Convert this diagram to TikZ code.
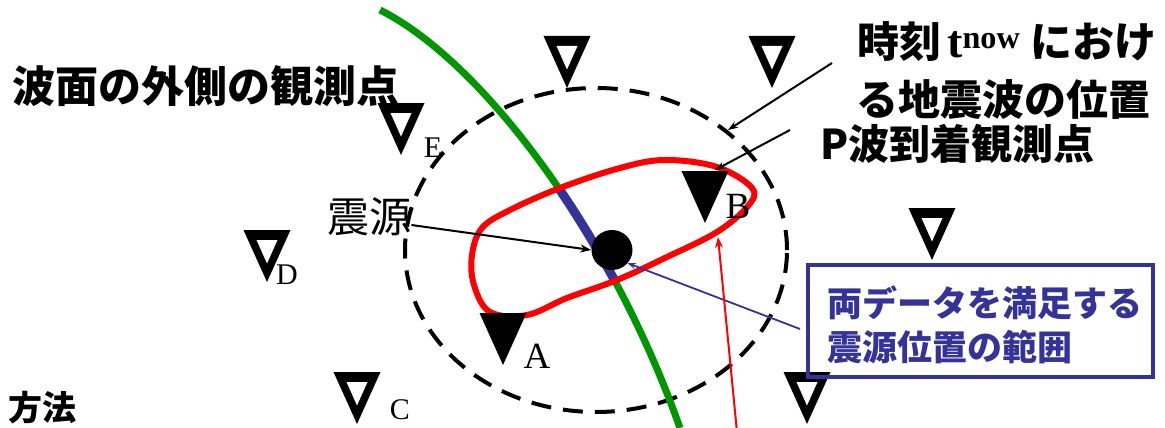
\documentclass[tikz,border=0pt]{standalone}
\usepackage{fontspec}
\newfontfamily\jp{Noto Sans CJK JP}
\newfontfamily\tms{Liberation Serif}
\usetikzlibrary{arrows.meta,shapes.geometric}
\definecolor{grn}{RGB}{0,150,0}
\definecolor{bl}{RGB}{51,51,153}
\tikzset{
  stn/.pic={\fill[black] (-23.5,0) -- (23.5,0) -- (0,52) -- cycle;
            \fill[white] (-10.5,10) -- (10.5,10) -- (0,33.5) -- cycle;},
  stnf/.pic={\fill[black] (-23.5,0) -- (23.5,0) -- (0,52) -- cycle;},
  jpb/.style={inner sep=0, anchor=west, font=\jp\bfseries\fontsize{#1}{#1}\selectfont},
  lab/.style={inner sep=0, font=\tms\fontsize{#1}{#1}\selectfont},
  arr/.style={line width=2pt, -{Stealth[length=11pt,width=8pt]}},
}
\begin{document}
\begin{tikzpicture}[x=1pt,y=-1pt]
\useasboundingbox (0,0) rectangle (1165,428);
% wave front (dashed)
\draw[line width=4pt, dash pattern=on 20pt off 12pt] (596,250) ellipse [x radius=191pt, y radius=162pt];
% green curve
\draw[grn, line width=7pt] (380,10) .. controls (480,60) and (610,230) .. (680,428);
% blue segment inside red loop
\begin{scope}
  \clip plot[smooth cycle, tension=0.6] coordinates {(527,315) (490,312) (474,285) (472,255) (482,228) (510,210) (560,188) (620,168) (665,160) (717,167) (752,188) (748,206) (717,232) (667,257) (617,280) (567,298)};
  \draw[bl, line width=9pt] (380,10) .. controls (480,60) and (610,230) .. (680,428);
\end{scope}
% red loop
\draw[red, line width=6pt] plot[smooth cycle, tension=0.6] coordinates {(527,315) (490,312) (474,285) (472,255) (482,228) (510,210) (560,188) (620,168) (665,160) (717,167) (752,188) (748,206) (717,232) (667,257) (617,280) (567,298)};
% hypocentre
\node[ellipse, fill=black, minimum width=41pt, minimum height=40pt, inner sep=0] (src) at (612,250) {};
% stations
\pic at (567,36) {stn};
\pic at (772,36) {stn};
\pic at (401,103) {stn};
\pic at (267,230) {stn};
\pic at (357,372) {stn};
\pic at (932,208) {stn};
\pic at (807,372) {stn};
\pic at (503,313) {stnf};
\pic at (705,171) {stnf};
\node[lab=37] (la) at (537,356) {A};
\node[lab=37] (lb) at (738,206) {B};
\node[lab=30] (lc) at (400,410) {C};
\node[lab=30] (ld) at (287,275) {D};
\node[lab=30] (le) at (433,148) {E};
% texts
\node[jpb=43] (outer) at (12,86) {波面の外側の観測点};
\node[jpb=42] (tn1) at (857,42) {時刻\hspace{6pt}{\tms\bfseries\fontsize{46}{46}\selectfont t\textsuperscript{now}}\hspace{10pt}におけ};
\node[jpb=42] (tn2) at (856,100) {る地震波の位置};
\node[jpb=41] (pst) at (820,144) {P波到着観測点};
\node[inner sep=0, anchor=west, font=\jp\fontsize{42}{42}\selectfont] (lsrc) at (327,217) {震源};
\node[jpb=34] (meth) at (8,408) {方法};
% box
\node[draw=bl, line width=4pt, minimum width=345pt, minimum height=112pt, inner sep=0] (box) at (980.5,321) {};
\node[jpb=35, text=bl] (bx1) at (827,303) {両データを満足する};
\node[jpb=35, text=bl] (bx2) at (827,347) {震源位置の範囲};
% connectors
\coordinate (ta) at (832,63);
\coordinate (tb) at (728,130);
\coordinate (pa) at (790,130);
\coordinate (pb) at (715,170);
\coordinate (ra) at (737,432);
\coordinate (rt) at (718,237);
\draw[arr] ([yshift=-8pt]lsrc.east) -- (src.west);
\draw[line width=2pt, -{Stealth[length=10pt,width=7pt]}] (ta) -- (tb);
\draw[line width=2pt, -{Stealth[length=10pt,width=7pt]}] (pa) -- (pb);
\draw[bl, line width=1.8pt, -{Stealth[length=8pt,width=6pt]}] ([xshift=-6pt,yshift=-8pt]box.west) -- (src.-40);
\draw[red, line width=2pt, -{Stealth[length=11pt,width=8pt]}] (ra) -- (rt);
\end{tikzpicture}
\end{document}
